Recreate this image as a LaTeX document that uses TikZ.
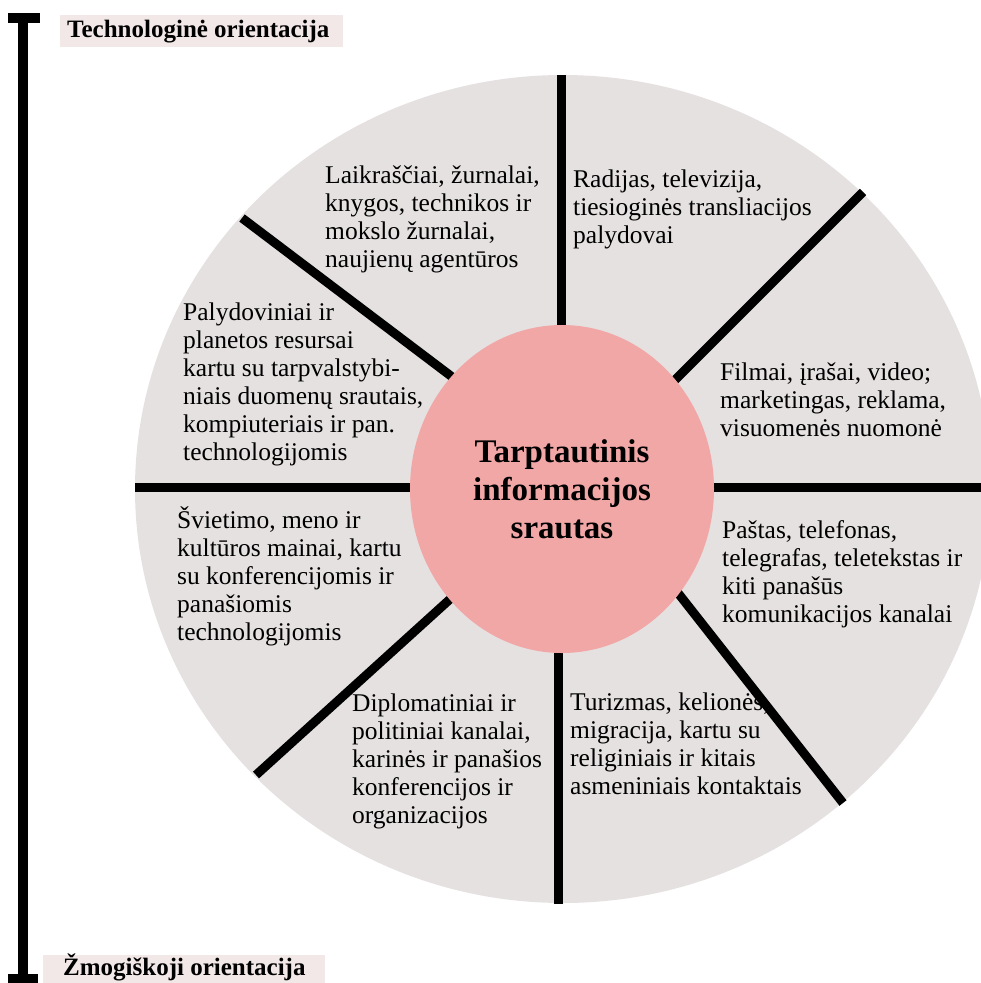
\documentclass[tikz,border=0pt]{standalone}
\usepackage{fontspec}
\setmainfont{Liberation Serif}
\usetikzlibrary{shapes.geometric}
\definecolor{wheelgrey}{RGB}{230,225,225}
\definecolor{hubpink}{RGB}{242,167,167}
\definecolor{tagpink}{RGB}{243,232,232}
\newcommand{\firstline}{\rule{0pt}{24pt}}
\tikzset{
  sector/.style={anchor=north west, inner sep=0pt, align=left, font=\fontsize{25.5}{28}\selectfont},
  divider/.style={line width=9pt},
  hub/.style={ellipse, fill=hubpink, minimum width=304pt, minimum height=328pt, inner sep=0pt, align=center, font=\bfseries\fontsize{33}{38}\selectfont},
  tag/.style={anchor=base west, inner sep=0pt, font=\bfseries\fontsize{25}{30}\selectfont}
}
\begin{document}
\begin{tikzpicture}[x=1pt,y=-1pt]
		\useasboundingbox (0,0) rectangle (981,983);
		%wheel
		\fill [wheelgrey] (563,489) ellipse [x radius=428, y radius=414];
		\draw [divider] (561,75) -- (561,489);
		\draw [divider] (558,489) -- (558,904);
		\draw [divider] (135,487) -- (563,487);
		\draw [divider] (563,487) -- (985,487);
		\draw [divider] (242,218) -- (480,398);
		\draw [divider] (863,192) -- (650,405);
		\draw [divider] (256,775) -- (480,572);
		\draw [divider] (843,803) -- (645,551);
		\node [hub] (hub) at (562,489) {Tarptautinis\\informacijos\\srautas};
		%sectors
		\node [sector] (press) at (325,159) {\firstline Laikraščiai, žurnalai,\\knygos, technikos ir\\mokslo žurnalai,\\naujienų agentūros};
		\node [sector] (radio) at (573,163) {\firstline Radijas, televizija,\\tiesioginės transliacijos\\palydovai};
		\node [sector] (sat) at (183,296) {\firstline Palydoviniai ir\\planetos resursai\\kartu su tarpvalstybi-\\niais duomenų srautais,\\kompiuteriais ir pan.\\technologijomis};
		\node [sector] (film) at (720,356) {\firstline Filmai, įrašai, video;\\marketingas, reklama,\\visuomenės nuomonė};
		\node [sector] (edu) at (177,504) {\firstline Švietimo, meno ir\\kultūros mainai, kartu\\su konferencijomis ir\\panašiomis\\technologijomis};
		\node [sector] (post) at (722,514) {\firstline Paštas, telefonas,\\telegrafas, teletekstas ir\\kiti panašūs\\komunikacijos kanalai};
		\node [sector] (diplo) at (352,687) {\firstline Diplomatiniai ir\\politiniai kanalai,\\karinės ir panašios\\konferencijos ir\\organizacijos};
		\node [sector] (tour) at (570,686) {\firstline Turizmas, kelionės,\\migracija, kartu su\\religiniais ir kitais\\asmeniniais kontaktais};
		%axis
		\draw [line width=10pt] (23,18) -- (23,983);
		\draw [line width=10pt] (8,18) -- (40,18);
		\draw [line width=10pt] (8,979) -- (38,979);
		\fill [tagpink] (60,15) rectangle (343,47);
		\node [tag] (techno) at (67,37) {Technologinė orientacija};
		\fill [tagpink] (43,955) rectangle (325,990);
		\node [tag] (human) at (63,975) {Žmogiškoji orientacija};
	\end{tikzpicture}
\end{document}
